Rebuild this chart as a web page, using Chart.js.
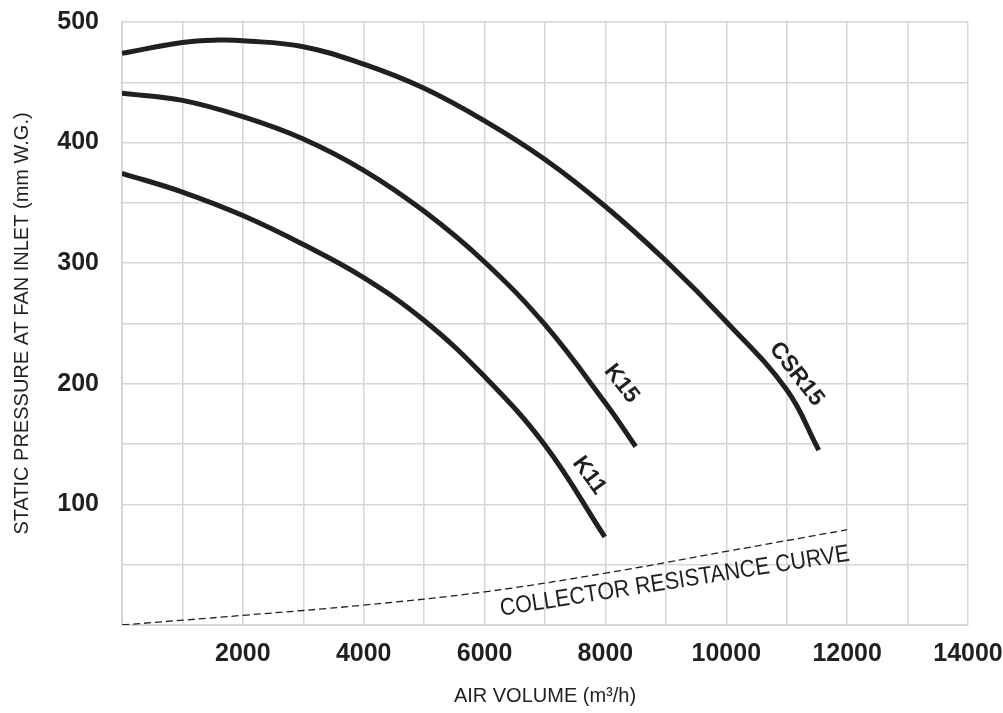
<!DOCTYPE html>
<html>
<head>
<meta charset="utf-8">
<script src="https://cdn.jsdelivr.net/npm/chart.js@4.4.1/dist/chart.umd.min.js"></script>
<style>
    body{margin:0;background:#fff;}
    #wrap{width:1003px;height:713px;}
</style>
</head>
<body>
<div id="wrap"><canvas id="fanCurves" width="1003" height="713"></canvas></div>
<script>
// Curvas de ventilador
const csrX = [0, 1000, 1600, 2000, 3000, 4000, 5000, 6000, 7000, 8000, 9000, 10000, 11000, 11530];
const csrY = [474, 483, 485, 484.5, 479.5, 465, 445, 418, 386, 347, 302, 251.5, 195, 145];
const k15X = [0, 1000, 2000, 3000, 4000, 5000, 6000, 7000, 8000, 8500];
const k15Y = [441, 435, 421.5, 403, 377, 343, 301, 249, 184, 148];
const k11X = [0, 1000, 2000, 3000, 4000, 5000, 6000, 7000, 7990];
const k11Y = [374.5, 359, 339.5, 315.5, 288, 252.5, 206, 149, 73];
const collectorX = [0, 2000, 4000, 6000, 8000, 10000, 12000];
const collectorY = [0, 8, 16.5, 27.5, 43, 61, 79];

const xTickLabels = [2000, 4000, 6000, 8000, 10000, 12000, 14000];
const yTickLabels = [100, 200, 300, 400, 500];

const INK = '#231f20';
const GRID = '#d6d6d6';
const FONT = '"Liberation Sans", Arial, Helvetica, sans-serif';

function toPoints(xs, ys) {
    return xs.map((x, i) => ({x: x, y: ys[i]}));
}

// Etiquetas sobre las curvas
const curveLabels = [
    {text: 'K15', x: 8265, y: 200, angle: 52, font: 'bold 23px ' + FONT, stretch: 1},
    {text: 'K11', x: 7729, y: 124, angle: 54, font: 'bold 23px ' + FONT, stretch: 1},
    {text: 'CSR15', x: 11162, y: 208, angle: 52, font: 'bold 23px ' + FONT, stretch: 1},
    {text: 'COLLECTOR RESISTANCE CURVE', x: 9147, y: 36, angle: -9, font: '21.5px ' + FONT, stretch: 1.12}
];

const labelPlugin = {
    id: 'curveLabels',
    afterDatasetsDraw(chart) {
        const ctx = chart.ctx;
        const xs = chart.scales.x, ys = chart.scales.y;
        curveLabels.forEach(l => {
            ctx.save();
            ctx.translate(xs.getPixelForValue(l.x), ys.getPixelForValue(l.y));
            ctx.rotate(l.angle * Math.PI / 180);
            ctx.scale(1, l.stretch);
            ctx.font = l.font;
            ctx.fillStyle = INK;
            ctx.textAlign = 'center';
            ctx.textBaseline = 'middle';
            ctx.fillText(l.text, 0, 0);
            ctx.restore();
        });
    }
};

function curve(label, xs, ys) {
    return {
        label: label,
        data: toPoints(xs, ys),
        borderColor: INK,
        borderWidth: 5,
        pointRadius: 0,
        showLine: true,
        tension: 0.4,
        borderCapStyle: 'butt'
    };
}

new Chart(document.getElementById('fanCurves'), {
    type: 'scatter',
    data: {
        datasets: [
            curve('CSR15', csrX, csrY),
            curve('K15', k15X, k15Y),
            curve('K11', k11X, k11Y),
            {
                label: 'Collector resistance curve',
                data: toPoints(collectorX, collectorY),
                borderColor: INK,
                borderWidth: 1.3,
                borderDash: [7, 4],
                pointRadius: 0,
                showLine: true,
                tension: 0.4
            }
        ]
    },
    options: {
        responsive: false,
        animation: false,
        layout: {padding: {left: 0, right: 35, top: 22, bottom: 0}},
        plugins: {legend: {display: false}, tooltip: {enabled: false}},
        scales: {
            x: {
                type: 'linear',
                min: 0,
                max: 14000,
                afterFit: s => { s.height = 88; s.paddingLeft = 0; s.paddingRight = 0; },
                grid: {color: GRID, lineWidth: 1.5, drawTicks: false},
                border: {color: GRID, width: 2},
                ticks: {
                    stepSize: 1000,
                    autoSkip: false,
                    maxRotation: 0,
                    padding: 14,
                    color: INK,
                    font: {family: FONT, size: 25, weight: 'bold'},
                    callback: v => xTickLabels.includes(v) ? String(v) : ''
                },
                title: {
                    display: true,
                    text: 'AIR VOLUME (m³/h)',
                    color: INK,
                    font: {family: FONT, size: 20},
                    padding: {top: 0, bottom: 5}
                }
            },
            y: {
                min: 0,
                max: 500,
                afterFit: s => { s.width = 122; s.paddingTop = 0; s.paddingBottom = 0; },
                grid: {color: GRID, lineWidth: 1.5, drawTicks: false},
                border: {color: GRID, width: 2},
                ticks: {
                    stepSize: 50,
                    autoSkip: false,
                    padding: 23,
                    color: INK,
                    font: {family: FONT, size: 25, weight: 'bold'},
                    callback: v => yTickLabels.includes(v) ? String(v) : ''
                },
                title: {
                    display: true,
                    text: 'STATIC PRESSURE AT FAN INLET (mm W.G.)',
                    color: INK,
                    font: {family: FONT, size: 20},
                    padding: {top: 10, bottom: 0}
                }
            }
        }
    },
    plugins: [labelPlugin]
});
</script>
</body>
</html>
